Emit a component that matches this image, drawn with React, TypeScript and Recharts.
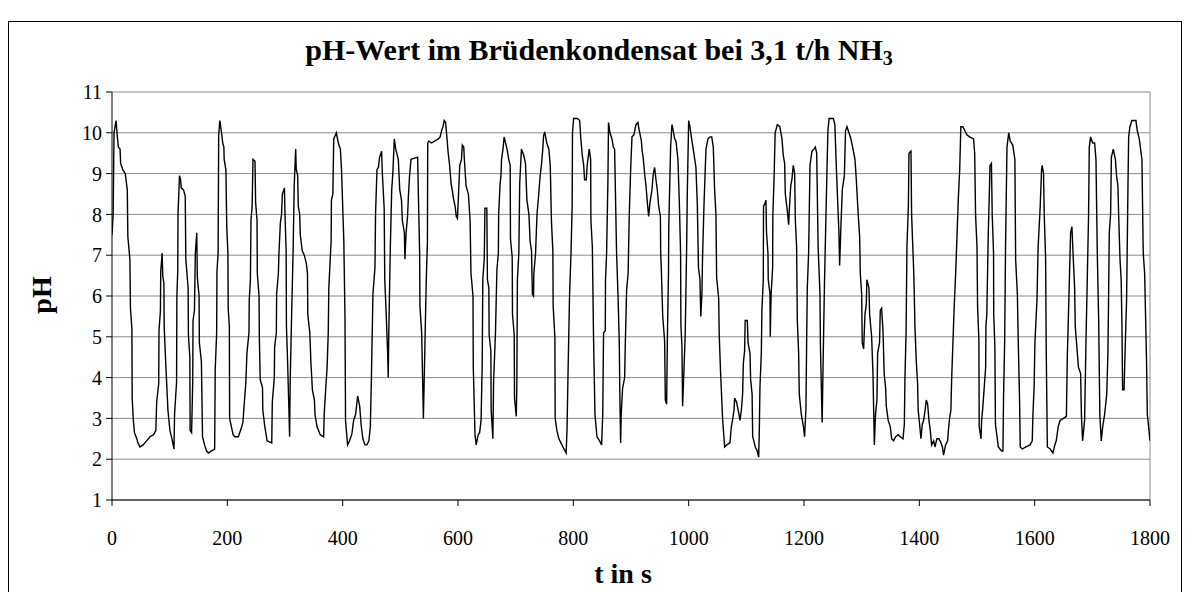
import { LineChart, Line, XAxis, YAxis, CartesianGrid, ReferenceLine } from 'recharts'

type Pt = [number, number]

// pH readings as [t in s, pH], split by 200 s windows
const ph0to200: Pt[] = [
  [0, 7.5], [2, 8.0], [3.5, 10.0], [7, 10.3], [9, 9.95], [11, 9.65], [14, 9.6], [15, 9.25], [18.5, 9.1], [23, 9.0],
  [26.5, 8.6], [27.5, 7.45], [31, 6.9], [32, 5.7], [34.5, 5.2], [35, 3.5], [37, 2.95], [39, 2.65], [43, 2.5], [45, 2.4],
  [48.5, 2.3], [54, 2.35], [60, 2.45], [66, 2.55], [72, 2.6], [76, 2.7], [77.5, 3.4], [81, 3.85], [81.5, 5.15], [84, 5.65],
  [84.5, 6.6], [87, 7.05], [88, 6.5], [90, 6.3], [90.5, 5.25], [93.5, 4.25], [97, 3.2], [100.5, 2.7], [104, 2.5], [107.5, 2.25],
  [108.5, 3.1], [112, 3.9], [112.5, 6.0], [114, 6.6], [114.5, 8.0], [117, 8.95], [119, 8.85], [120, 8.65], [124, 8.6], [127, 8.45],
  [128, 6.9], [132, 6.2], [132.5, 5.05], [135, 4.5], [135.5, 2.7], [138, 2.65], [140, 3.9], [140.5, 5.4], [143, 5.65], [144.5, 7.05],
  [147, 7.55], [148, 6.45], [151, 6.0], [151.5, 4.85], [155, 4.4], [157, 2.55], [160.5, 2.35], [164, 2.2], [167.5, 2.15], [172, 2.2],
  [178, 2.25], [179, 4.2], [181.5, 5.1], [182, 6.6], [184, 7.05], [185, 9.95], [187, 10.3], [190, 10.0], [192, 9.75], [194, 9.65],
  [194.5, 9.35], [197.5, 9.1],
]
const ph200to400: Pt[] = [
  [199, 7.7], [201, 7.05], [201.5, 5.7], [203.5, 5.25], [204, 3.0], [207, 2.8], [210, 2.6], [213, 2.55], [219, 2.55], [224, 2.75],
  [227, 2.9], [229.5, 3.4], [232, 3.85], [234, 4.6], [237.5, 5.1], [238, 5.9], [240, 6.4], [241, 7.85], [243, 8.2], [244.5, 9.35],
  [248, 9.3], [249, 8.3], [251.5, 7.85], [252, 6.55], [255, 6.0], [255.5, 5.0], [257, 3.95], [261, 3.75], [261.5, 3.2], [265, 2.8],
  [269, 2.45], [277, 2.4], [278, 3.4], [281.5, 4.0], [282, 4.75], [285, 5.1], [285.5, 6.05], [288.5, 6.55], [289.5, 7.05], [292, 7.8],
  [294, 8.0], [295.5, 8.5], [299, 8.65], [300, 8.0], [302, 7.1], [302.5, 5.25], [304.5, 4.4], [308, 2.55], [309, 3.9], [311.5, 5.55],
  [314, 7.05], [316, 8.7], [318.5, 9.6], [319.5, 9.1], [322, 8.95], [323, 8.2], [325.5, 8.0], [326.5, 7.5], [330, 7.1], [333.5, 7.0],
  [337, 6.8], [339, 6.55], [339.5, 5.55], [343, 5.1], [345, 4.35], [347.5, 3.7], [351, 3.45], [352, 3.1], [355.5, 2.8], [361, 2.6],
  [367, 2.55], [368, 3.1], [370.5, 3.7], [373, 4.25], [375, 5.1], [376, 6.2], [380, 7.35], [380.5, 8.35], [383, 8.5], [384.5, 9.85],
  [389, 10.0], [392.5, 9.75], [396, 9.6], [398, 9.1],
]
const ph400to600: Pt[] = [
  [402, 7.35], [404, 5.5], [405, 2.95], [408.5, 2.35], [412, 2.45], [416, 2.62], [419, 2.95], [422.5, 3.1], [426, 3.55], [429.5, 3.3],
  [432, 2.85], [435, 2.5], [438.7, 2.35], [442, 2.35], [445.5, 2.45], [448, 2.8], [450, 4.1], [452.5, 6.05], [456, 6.7], [457, 8.0],
  [459.5, 9.1], [462, 9.15], [464, 9.4], [467.5, 9.55], [469, 8.95], [472, 8.15], [473, 6.4], [475.5, 5.55], [478, 4.6], [479, 4.0],
  [480, 5.1], [481, 5.9], [482.5, 7.1], [485, 8.6], [487, 9.0], [489.5, 9.85], [492, 9.6], [496.5, 9.35], [499, 8.6], [502, 8.35],
  [503.5, 7.85], [507, 7.55], [508, 6.9], [510, 7.55], [512.5, 7.95], [514, 8.45], [516, 8.95], [518.5, 9.35], [525, 9.38], [530, 9.4],
  [532, 8.0], [533.5, 7.05], [534, 5.75], [537, 5.1], [540, 3.0], [542.5, 4.7], [545, 6.4], [547, 7.35], [547.5, 9.75], [549.5, 9.8],
  [554, 9.75], [560, 9.8], [566, 9.85], [569, 9.9], [571.5, 10.05], [574, 10.15], [576, 10.3], [578.5, 10.25], [581, 9.85], [583, 9.5],
  [585.5, 9.2], [588, 8.75], [590, 8.6], [592, 8.4], [595, 8.2], [597, 7.95], [599, 7.9],
]
const ph600to800: Pt[] = [
  [600.5, 8.35], [603, 9.2], [606, 9.35], [607.5, 9.7], [610, 9.65], [611, 9.35], [614, 8.7], [618, 8.5], [621, 7.85], [622.5, 6.55],
  [626, 6.0], [626.5, 4.25], [629.5, 2.6], [631.5, 2.35], [635, 2.6], [637.5, 2.65], [640, 2.95], [642, 4.35], [643, 6.4], [645.5, 6.9],
  [646.7, 8.15], [650, 8.15], [651, 6.4], [653.5, 6.2], [654, 5.05], [657, 4.65], [657.5, 3.2], [660.5, 2.5], [661.7, 3.9], [665, 5.1],
  [667.5, 6.65], [670, 7.05], [670.5, 8.0], [673, 8.75], [674.5, 8.95], [675.5, 9.35], [678, 9.6], [680, 9.9], [682.5, 9.75], [685, 9.6],
  [688, 9.35], [690.5, 9.2], [691, 7.4], [694, 6.95], [694.5, 5.55], [697.5, 5.05], [698, 3.5], [701, 3.05], [702, 3.75], [703, 6.4],
  [705.5, 7.05], [707, 8.75], [710, 9.6], [714, 9.45], [717, 9.25], [719.5, 8.35], [723, 8.0], [725, 7.35], [727.5, 7.1], [729, 6.05],
  [731, 6.0], [731.5, 6.55], [734.5, 7.05], [737, 8.0], [740, 8.5], [742.5, 8.95], [745, 9.25], [747, 9.6], [748.5, 9.95], [750.5, 10.0],
  [754, 9.75], [757.5, 9.6], [760, 9.2], [762, 7.85], [764.5, 7.1], [765, 5.75], [768, 5.0], [768.5, 3.0], [771.5, 2.7], [775, 2.5],
  [778.5, 2.4], [782, 2.3], [787.5, 2.15], [789, 2.7], [791, 4.25], [793.5, 6.05], [796, 7.05], [798, 8.25], [798.5, 10.0],
]
const ph800to1000: Pt[] = [
  [800.5, 10.35], [807, 10.35], [811, 10.3], [813, 9.85], [815.5, 9.45], [818, 9.2], [819.5, 8.85], [822.5, 8.85], [824, 9.2], [827.5, 9.6],
  [830, 9.35], [830.5, 7.85], [833, 7.2], [835, 5.0], [837.5, 3.1], [841, 2.55], [845.5, 2.45], [849, 2.35], [851, 3.1], [852.4, 5.1],
  [855.4, 5.15], [855.8, 6.4], [857.7, 7.05], [860, 8.85], [861, 10.25], [863.5, 10.0], [867, 9.85], [869.3, 9.65], [871.6, 9.6], [875, 7.05],
  [877.4, 6.05], [879.7, 4.85], [880.5, 3.75], [882, 2.4], [883, 3.1], [885.5, 3.75], [889, 4.0], [890, 4.75], [892.4, 6.15], [895, 6.55],
  [897, 8.0], [899.4, 9.1], [901.7, 9.9], [905, 9.95], [908.6, 10.2], [912, 10.25], [914.4, 10.05], [918, 9.8], [919, 9.6], [921, 9.4],
  [923.6, 9.0], [926, 8.7], [928, 8.35], [930.6, 7.95], [933, 8.3], [936.3, 8.6], [938.7, 9.0], [941, 9.15], [943.3, 8.85], [945.6, 8.6],
  [948, 8.2], [951, 7.95], [951.5, 7.05], [952.5, 6.7], [955, 5.5], [958.3, 4.9], [959.5, 3.45], [961.8, 3.35], [963, 4.9], [965, 6.55],
  [965.5, 7.7], [968.7, 9.65], [971, 10.2], [973.3, 10.05], [975.7, 9.85], [978, 9.8], [981.4, 9.35], [984, 8.2], [986, 7.05], [986.5, 5.3],
  [988.4, 4.75], [989.5, 3.3], [992, 4.25], [994, 5.05], [996.5, 7.2], [997.6, 8.5],
]
const ph1000to1200: Pt[] = [
  [1000, 10.3], [1002.2, 10.15], [1004.6, 9.9], [1009, 9.5], [1012.6, 9.15], [1015, 8.25], [1017, 6.7], [1019.6, 6.4], [1021, 5.5], [1023, 6.05],
  [1024, 6.9], [1026.5, 8.2], [1029, 9.2], [1030, 9.6], [1033.5, 9.85], [1037, 9.9], [1040, 9.9], [1042.7, 9.65], [1045, 8.6], [1047.3, 8.0],
  [1048.5, 6.45], [1052, 5.95], [1053, 5.05], [1055.4, 4.1], [1059, 2.95], [1062.4, 2.3], [1066, 2.35], [1071.6, 2.4], [1074, 2.8], [1076, 2.95],
  [1078.6, 3.2], [1079.7, 3.5], [1083, 3.4], [1086.6, 3.15], [1089, 2.95], [1091.3, 3.2], [1093.6, 3.6], [1094.8, 4.35], [1097, 4.65], [1098, 5.4],
  [1101.7, 5.4], [1103, 4.85], [1106.3, 4.6], [1107.5, 3.95], [1110, 3.6], [1111, 2.55], [1113, 2.45], [1115.5, 2.3], [1119, 2.2], [1121.4, 2.05],
  [1122.5, 2.7], [1123.6, 3.75], [1126, 4.6], [1127, 5.65], [1129.4, 6.4], [1129.8, 8.2], [1131.7, 8.25], [1134, 8.35], [1135, 7.55], [1137.5, 7.05],
  [1138, 6.4], [1141, 6.05], [1141.5, 5.0], [1143, 6.05], [1145.6, 6.7], [1146, 8.0], [1148, 8.85], [1150, 10.0], [1153.7, 10.2], [1158, 10.15],
  [1161.8, 9.85], [1164, 9.45], [1166.4, 9.25], [1167.6, 8.5], [1171, 8.1], [1173.4, 7.75], [1174.5, 8.1], [1177, 8.7], [1179, 8.85], [1181.4, 9.2],
  [1183.8, 9.0], [1185, 7.85], [1187.2, 7.2], [1188.4, 5.4], [1190.7, 4.6], [1191.8, 3.6], [1195.3, 3.1], [1199, 2.8],
]
const ph1200to1400: Pt[] = [
  [1201, 2.55], [1203.4, 3.25], [1204.6, 4.9], [1205.7, 6.2], [1208, 7.05], [1210.4, 9.2], [1213.8, 9.55], [1217.3, 9.6], [1219.6, 9.65], [1222, 9.5],
  [1224.5, 7.2], [1227.7, 6.05], [1228.5, 4.75], [1231.5, 2.9], [1233.3, 4.5], [1235.5, 6.3], [1237.5, 7.6], [1240, 9.2], [1241.5, 10.05], [1243.5, 10.35],
  [1251, 10.35], [1253.5, 10.2], [1256, 9.2], [1258.3, 8.35], [1260.6, 7.55], [1261.8, 6.75], [1264, 7.7], [1266.4, 8.6], [1270, 8.95], [1272, 10.05],
  [1274.5, 10.15], [1278, 10.0], [1281.4, 9.85], [1285, 9.6], [1288.4, 9.35], [1290.7, 8.85], [1294, 8.0], [1296.5, 7.45], [1297.6, 6.55], [1300, 6.05],
  [1301, 4.85], [1303.4, 4.7], [1305.7, 5.55], [1308, 5.8], [1309, 6.4], [1312.6, 6.2], [1313.8, 5.55], [1317.3, 5.0], [1319.6, 4.1], [1322, 2.35],
  [1324, 3.1], [1326.5, 3.45], [1327.7, 4.6], [1331, 4.85], [1332.3, 5.65], [1334.6, 5.7], [1337, 5.15], [1339, 4.1], [1341.5, 3.75], [1342.7, 3.3],
  [1346, 2.95], [1349.6, 2.8], [1352, 2.5], [1355.4, 2.45], [1359, 2.55], [1363.5, 2.6], [1367, 2.55], [1371.6, 2.5], [1374, 2.85], [1375, 3.95],
  [1377, 5.1], [1378.5, 7.2], [1381, 8.2], [1382, 9.5], [1385.5, 9.55], [1386.6, 8.0], [1390, 6.7], [1391, 6.2], [1392.4, 5.25], [1394.7, 4.4],
  [1397, 3.85], [1398, 3.2],
]
const ph1400to1600: Pt[] = [
  [1400.5, 2.85], [1402.8, 2.5], [1405, 2.85], [1407.4, 2.95], [1410, 3.2], [1412, 3.45], [1414.4, 3.35], [1416.7, 2.95], [1419, 2.7], [1421.3, 2.35],
  [1424.8, 2.45], [1427, 2.3], [1430.5, 2.5], [1434, 2.5], [1437.5, 2.4], [1440, 2.3], [1442, 2.1], [1445.5, 2.35], [1449, 2.45], [1451, 2.8],
  [1452.4, 3.0], [1454.7, 3.2], [1456, 3.95], [1458, 4.75], [1460.5, 5.75], [1463, 6.55], [1465, 7.35], [1467.5, 8.35], [1470, 9.1], [1472, 10.15],
  [1475.5, 10.15], [1479, 10.05], [1482.5, 9.95], [1487, 9.9], [1494, 9.85], [1496, 9.5], [1497.5, 8.0], [1500, 7.2], [1501, 5.75], [1503.3, 4.9],
  [1503.8, 2.8], [1507, 2.5], [1508, 2.95], [1510, 3.25], [1512.5, 3.75], [1515, 4.25], [1515.5, 5.25], [1517, 5.55], [1519.5, 7.5], [1522, 8.85],
  [1522.5, 9.2], [1525, 9.25], [1526.4, 8.0], [1528.7, 7.05], [1529, 5.55], [1531, 4.75], [1532, 2.85], [1537, 2.3], [1542.6, 2.2], [1545, 2.2],
  [1546, 3.5], [1548, 4.9], [1549.5, 7.2], [1552, 9.65], [1555, 10.0], [1557.6, 9.8], [1562, 9.7], [1565.7, 9.35], [1567, 6.9], [1570, 6.05],
  [1571.5, 4.9], [1573.8, 3.45], [1575, 2.3], [1578.4, 2.25], [1585, 2.3], [1592, 2.35], [1595.8, 2.45], [1597, 3.1], [1599, 3.75],
]
const ph1600to1800: Pt[] = [
  [1600.4, 4.85], [1604, 5.9], [1606, 7.2], [1609.6, 8.2], [1612, 9.1], [1613, 9.2], [1615.4, 9.0], [1616.6, 8.0], [1619, 6.9], [1620, 4.75],
  [1622, 2.3], [1627, 2.25], [1631.6, 2.15], [1635, 2.35], [1637.4, 2.45], [1640.9, 2.8], [1644, 2.95], [1650, 3.0], [1655, 3.05], [1656.6, 4.5],
  [1659, 5.75], [1662.3, 7.55], [1664.6, 7.7], [1667, 6.9], [1669.3, 6.2], [1670.4, 5.25], [1674, 4.6], [1676, 4.25], [1679.7, 4.1], [1681, 3.1],
  [1683.1, 2.45], [1686.6, 2.95], [1689, 4.9], [1691.2, 6.4], [1693.5, 8.0], [1694.7, 9.65], [1697, 9.9], [1700.5, 9.75], [1704, 9.75], [1706.3, 9.35],
  [1708.6, 7.05], [1711, 5.4], [1713, 3.1], [1715.5, 2.45], [1718, 2.8], [1721.3, 3.1], [1725, 3.6], [1727, 4.6], [1728, 5.75], [1729.4, 7.55],
  [1731.7, 8.0], [1733, 9.4], [1736.3, 9.6], [1740, 9.35], [1742, 8.95], [1744.4, 8.7], [1745.6, 8.0], [1748, 6.9], [1750, 6.4], [1751.4, 5.25],
  [1752.5, 3.7], [1755, 3.7], [1757, 4.75], [1759.4, 5.9], [1761.8, 8.7], [1763, 9.9], [1765.2, 10.15], [1768.7, 10.3], [1775.6, 10.3], [1778, 10.05],
  [1781.4, 9.85], [1786, 9.35], [1788.3, 7.05], [1790.7, 6.55], [1794, 4.4], [1795.3, 3.1], [1797.6, 2.8], [1800, 2.45],
]

const timeTicks = [0, 200, 400, 600, 800, 1000, 1200, 1400, 1600, 1800]
const phTicks = [1, 2, 3, 4, 5, 6, 7, 8, 9, 10, 11]

const data = [
  ph0to200, ph200to400, ph400to600, ph600to800, ph800to1000,
  ph1000to1200, ph1200to1400, ph1400to1600, ph1600to1800,
].flat().map(([t, ph]) => ({ t, ph }))

const font = "'Liberation Serif', 'Times New Roman', serif"
const tickStyle = { fill: '#000', fontSize: 20, fontFamily: font }

export default function App() {
  return (
    <div style={{ paddingTop: 13 }}>
      <div
        style={{
          position: 'relative',
          width: 1174,
          height: 600,
          border: '1px solid #000',
          boxSizing: 'border-box',
          fontFamily: font,
          color: '#000',
        }}
      >
        <div
          style={{
            position: 'absolute',
            left: 4,
            top: 13,
            width: '100%',
            textAlign: 'center',
            fontSize: 30,
            lineHeight: '30px',
            fontWeight: 'bold',
            whiteSpace: 'nowrap',
          }}
        >
          pH-Wert im Brüdenkondensat bei 3,1 t/h NH
          <span style={{ fontSize: 20, verticalAlign: -5 }}>3</span>
        </div>
        <div
          style={{
            position: 'absolute',
            left: 33,
            top: 273,
            fontSize: 28,
            lineHeight: '28px',
            fontWeight: 'bold',
            transform: 'translate(-50%, -50%) rotate(-90deg)',
          }}
        >
          pH
        </div>
        <div
          style={{
            position: 'absolute',
            left: 614,
            top: 538,
            fontSize: 28,
            lineHeight: '28px',
            fontWeight: 'bold',
            transform: 'translateX(-50%)',
            whiteSpace: 'nowrap',
          }}
        >
          t in s
        </div>
        <LineChart
          width={1172}
          height={570}
          data={data}
          margin={{ top: 70, right: 31, bottom: 52, left: 43 }}
          style={{ fontFamily: font }}
        >
          <CartesianGrid vertical={false} stroke="#8c8c8c" strokeWidth={1} />
          <XAxis
            type="number"
            dataKey="t"
            domain={[0, 1800]}
            ticks={timeTicks}
            interval={0}
            height={40}
            stroke="#000"
            tickSize={6}
            tickMargin={25}
            tick={tickStyle}
            allowDataOverflow
          />
          <YAxis
            type="number"
            domain={[1, 11]}
            ticks={phTicks}
            interval={0}
            width={60}
            stroke="#000"
            tickSize={6}
            tickMargin={4}
            tick={tickStyle}
            allowDataOverflow
          />
          <ReferenceLine x={1800} stroke="#8c8c8c" />
          <Line
            type="linear"
            dataKey="ph"
            stroke="#000"
            strokeWidth={1.4}
            dot={false}
            isAnimationActive={false}
          />
        </LineChart>
      </div>
    </div>
  )
}
